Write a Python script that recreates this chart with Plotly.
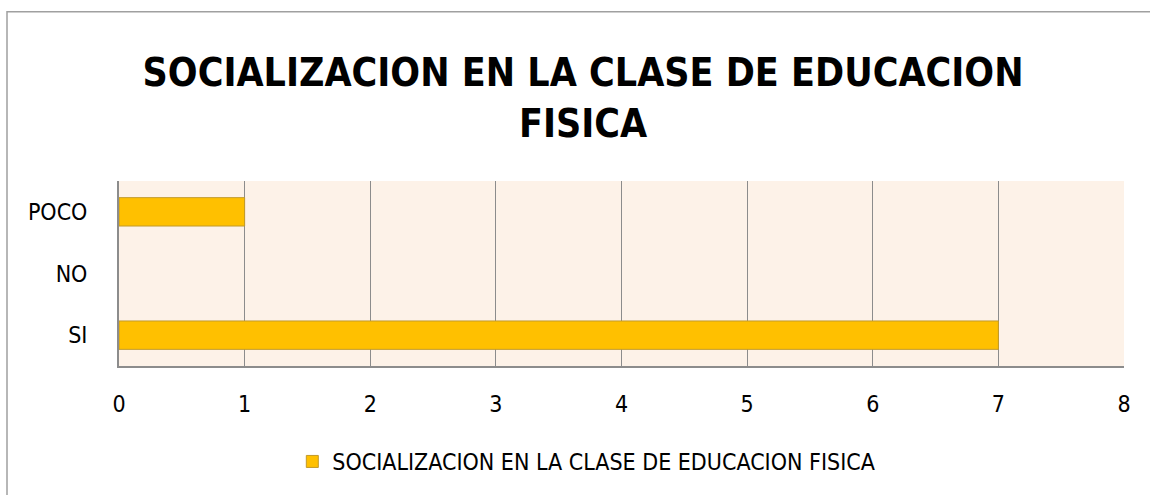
import plotly.graph_objects as go

# categories and values
categorias = ["SI", "NO", "POCO"]
valores = [7, 0, 1]
serie = "SOCIALIZACION EN LA CLASE DE EDUCACION FISICA"
titulo = "SOCIALIZACION EN LA CLASE DE EDUCACION<br>FISICA"

fuente = "DejaVu Sans Condensed, Liberation Sans Narrow, sans-serif"

fig = go.Figure()
fig.add_trace(go.Bar(
    y=categorias, x=valores, orientation="h", name=serie,
    width=0.46,
    marker=dict(color="#FFC000", line=dict(color="#C29A2A", width=[1, 0, 1])),
    showlegend=True,
))

fig.update_layout(
    width=1150, height=495,
    margin=dict(l=119, r=26, t=181, b=126),
    paper_bgcolor="white",
    plot_bgcolor="#FDF2E8",
    font=dict(family=fuente, color="black", size=23),
    title=dict(text="<b>" + titulo + "</b>", x=0.507, xanchor="center",
               yref="container", y=0.826, yanchor="middle",
               font=dict(family=fuente, size=39, color="black")),
    xaxis=dict(range=[0, 8], dtick=1, showgrid=True, gridcolor="#8C8C8C",
               gridwidth=1, zeroline=False, showline=True, linecolor="#8C8C8C",
               linewidth=2, ticks="", ticklabelstandoff=16,
               tickfont=dict(size=23), mirror=False),
    yaxis=dict(showgrid=False, zeroline=False, showline=True,
               linecolor="#8C8C8C", linewidth=2, ticks="",
               ticklabelstandoff=25, tickfont=dict(size=23)),
    legend=dict(orientation="h", x=0.465, xanchor="center", y=-0.40,
                yanchor="top", font=dict(size=23)),
    shapes=[dict(type="rect", xref="paper", yref="paper",
                 x0=(7 - 119) / 1005, x1=1.2, y0=-1.0, y1=(369 - 9) / 188,
                 line=dict(color="#A0A0A0", width=1.5), layer="below")],
)

# the page has a default body margin; drop it so the figure sits at 0,0
fig.write_html("out.html", config={"displayModeBar": False},
               post_script="document.body.style.margin='0';")
